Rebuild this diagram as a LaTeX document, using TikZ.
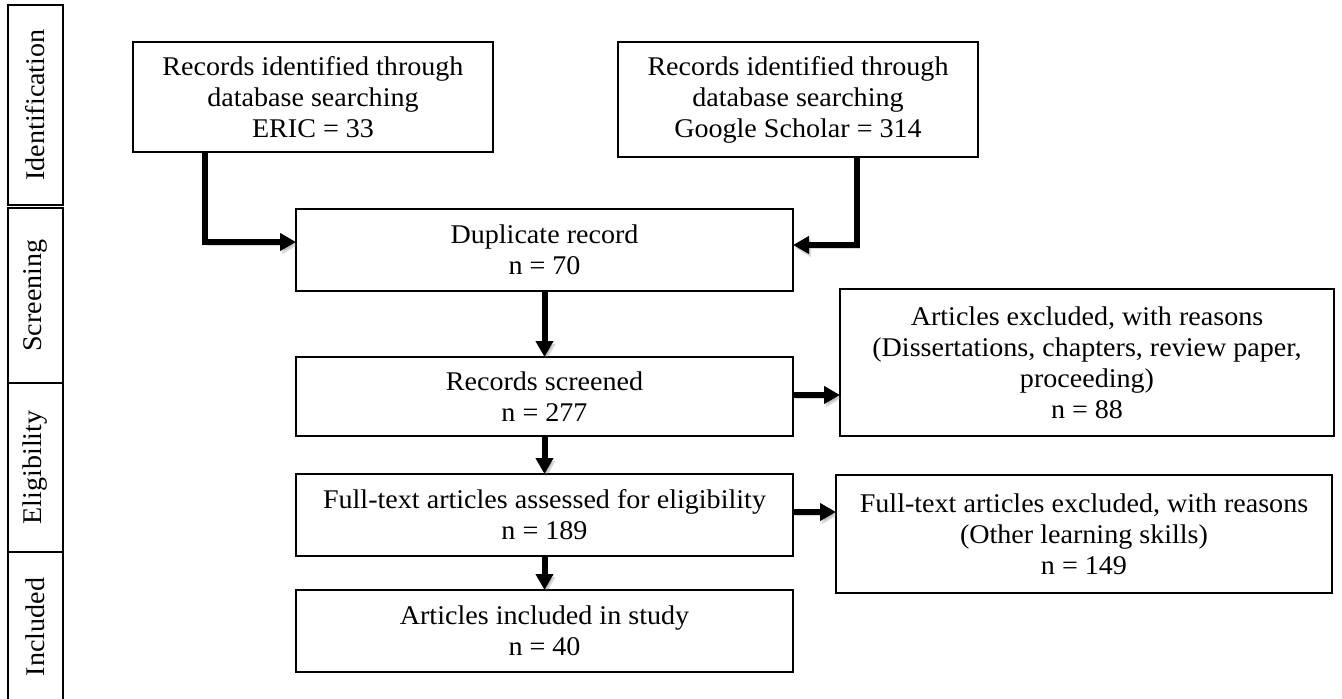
\documentclass[tikz,border=0pt]{standalone}
\usepackage{fontspec}
\setmainfont{Liberation Serif}[FakeStretch=1.04]
\usetikzlibrary{arrows.meta}
\begin{document}
\begin{tikzpicture}[x=1pt,y=-1pt,
 box/.style={draw,line width=1.2pt,outer sep=0pt,inner sep=0pt,align=center,font=\fontsize{27}{31}\selectfont},
 lab/.style={draw,line width=1.2pt,outer sep=0pt,inner sep=0pt,rotate=90,font=\fontsize{27}{31}\selectfont,minimum height=55pt},
 flow/.style={line width=6pt,-{Triangle[length=16pt,width=17pt]},
   preaction={draw=black!60,opacity=.25,transform canvas={shift={(2pt,-3pt)}}}}
]
\useasboundingbox (0,0) rectangle (1342,699);

% stage labels
\node[lab,minimum width=200pt] (lid) at (35.5,105) {Identification};
\node[lab,minimum width=175pt] (lscr) at (35.5,295.5) {Screening};
\node[lab,minimum width=169pt] (lel) at (35.5,467.5) {Eligibility};
\node[lab,draw=none,minimum width=150pt] (linc) at (35.5,627) {Included};
\draw[line width=1.2pt] (linc.north west) -- (linc.north east) -- (linc.south east) -- (linc.south west);

% boxes
\node[box,minimum width=360pt,minimum height=110pt] (eric) at (313,97)
  {Records identified through\\database searching\\ERIC = 33};
\node[box,minimum width=360pt,minimum height=115pt] (google) at (798,99.5)
  {Records identified through\\database searching\\Google Scholar = 314};
\node[box,minimum width=497pt,minimum height=82pt] (dup) at (544.5,250)
  {Duplicate record\\n = 70};
\node[box,minimum width=497pt,minimum height=79pt] (scr) at (544.5,396.5)
  {Records screened\\n = 277};
\node[box,minimum width=494pt,minimum height=147pt] (excl1) at (1087,362.5)
  {Articles excluded, with reasons\\(Dissertations, chapters, review paper,\\proceeding)\\n = 88};
\node[box,minimum width=497pt,minimum height=82pt] (full) at (544.5,515)
  {Full-text articles assessed for eligibility\\n = 189};
\node[box,minimum width=496pt,minimum height=118pt] (excl2) at (1084,534)
  {Full-text articles excluded, with reasons\\(Other learning skills)\\n = 149};
\node[box,minimum width=497pt,minimum height=82pt] (incl) at (544.5,631)
  {Articles included in study\\n = 40};

% connectors
\draw[flow] ([xshift=72pt]eric.south west) |- ([yshift=8pt]dup.west);
\draw[flow] ([xshift=-121pt]google.south east) |- ([yshift=5pt]dup.east);
\draw[flow] (dup.south) -- (scr.north);
\draw[flow] ([yshift=1.5pt]scr.east) -- ([yshift=1.5pt]scr.east -| excl1.west);
\draw[flow] (scr.south) -- (full.north);
\draw[flow] ([yshift=3pt]full.east) -- ([yshift=3pt]full.east -| excl2.west);
\draw[flow] (full.south) -- (incl.north);
\end{tikzpicture}
\end{document}
